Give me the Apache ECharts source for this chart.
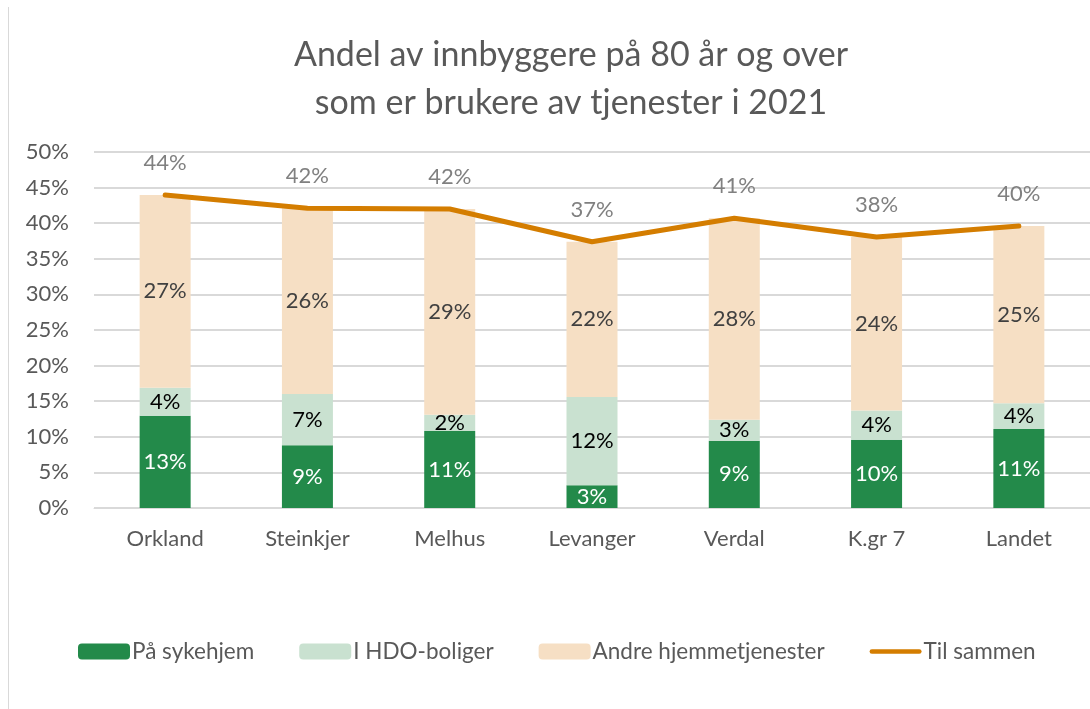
<!DOCTYPE html>
<html>
<head>
<meta charset="utf-8">
<script src="https://cdn.jsdelivr.net/npm/echarts@6/dist/echarts.min.js"></script>
<style>html,body{margin:0;padding:0;background:#fff}#c{width:1090px;height:709px}</style>
</head>
<body>
<div id="c"></div>
<script>
const categories = ['Orkland', 'Steinkjer', 'Melhus', 'Levanger', 'Verdal', 'K.gr 7', 'Landet'];
const sykehjem = [12.96, 8.8, 10.8, 3.2, 9.45, 9.6, 11.1];
const hdoBoliger = [3.94, 7.2, 2.3, 12.4, 2.95, 4.1, 3.6];
const andre = [27.06, 26.1, 28.9, 21.8, 28.3, 24.36, 24.9];
const tilSammen = [43.96, 42.1, 42.0, 37.4, 40.7, 38.06, 39.6];
const yTicks = [0, 5, 10, 15, 20, 25, 30, 35, 40, 45, 50];

const FONT = 'Lato, "Open Sans", sans-serif';
const pct = p => Math.round(p.value) + '%';
const chart = echarts.init(document.getElementById('c'));
chart.setOption({
  animation: false,
  textStyle: { fontFamily: FONT },
  title: {
    text: 'Andel av innbyggere på 80 år og over\nsom er brukere av tjenester i 2021',
    left: 566, top: 26, textAlign: 'center',
    textStyle: { fontSize: 34, fontWeight: 'normal', color: '#595959', lineHeight: 48, fontFamily: FONT }
  },
  graphic: [{ type: 'line', shape: { x1: 8.5, y1: 7, x2: 8.5, y2: 709 }, style: { stroke: '#d9d9d9', lineWidth: 1 } }],
  legend: {
    top: 640, left: 78, padding: 0,
    itemWidth: 52, itemHeight: 16, itemGap: 45,
    textStyle: { fontSize: 22.5, color: '#595959', fontFamily: FONT, padding: [0, 0, 0, -3] },
    data: ['På sykehjem', 'I HDO-boliger', 'Andre hjemmetjenester',
      { name: 'Til sammen', icon: 'path://M2.5,0 L54.5,0 A2.5,2.5 0 0 1 54.5,5 L2.5,5 A2.5,2.5 0 0 1 2.5,0 Z' }]
  },
  grid: { left: 94, right: -4, top: 152, bottom: 201 },
  xAxis: {
    type: 'category', data: categories,
    axisLine: { lineStyle: { color: '#d9d9d9', width: 1 } },
    axisTick: { show: false },
    axisLabel: { fontSize: 22, color: '#595959', margin: 20, fontFamily: FONT }
  },
  yAxis: {
    type: 'value', min: yTicks[0], max: yTicks[yTicks.length - 1], interval: 5,
    axisLine: { show: false }, axisTick: { show: false },
    splitLine: { lineStyle: { color: '#d9d9d9', width: 2 } },
    axisLabel: { fontSize: 22, color: '#595959', margin: 25, formatter: v => v + '%', fontFamily: FONT }
  },
  series: [
    { name: 'På sykehjem', type: 'bar', stack: 's', data: sykehjem, barWidth: 51,
      itemStyle: { color: '#238a4a' },
      label: { show: true, position: 'inside', color: '#ffffff', fontSize: 22, formatter: pct, fontFamily: FONT } },
    { name: 'I HDO-boliger', type: 'bar', stack: 's', data: hdoBoliger, barWidth: 51,
      itemStyle: { color: '#c9e1d0' },
      label: { show: true, position: 'inside', color: '#000000', fontSize: 22, formatter: pct, fontFamily: FONT } },
    { name: 'Andre hjemmetjenester', type: 'bar', stack: 's', data: andre, barWidth: 51,
      itemStyle: { color: '#f6dfc4' },
      label: { show: true, position: 'inside', color: '#404040', fontSize: 22, formatter: pct, fontFamily: FONT } },
    { name: 'Til sammen', type: 'line', data: tilSammen, symbol: 'circle', symbolSize: 0.01, showSymbol: true,
      lineStyle: { color: '#d47d00', width: 5, cap: 'round', join: 'round' },
      itemStyle: { color: '#d47d00' },
      z: 5,
      label: { show: true, position: 'top', distance: 21, color: '#808080', fontSize: 22, formatter: pct, fontFamily: FONT } }
  ]
});
</script>
</body>
</html>
